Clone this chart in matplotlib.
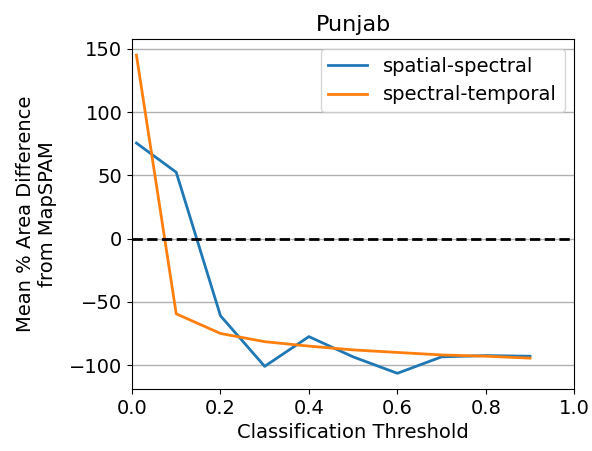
import matplotlib
matplotlib.use("Agg")
import matplotlib.pyplot as plt

thresholds = [0.01, 0.1, 0.2, 0.3, 0.4, 0.5, 0.6, 0.7, 0.8, 0.9]
spatial_spectral = [75.5, 52.4, -61, -101, -77.5, -93.5, -106.5, -93.5, -92.5, -93]
spectral_temporal = [145, -59.5, -75, -81.5, -85, -88, -90, -92, -93, -94.5]

plt.rcParams["font.size"] = 14

fig = plt.figure(figsize=(5.92, 4.51), dpi=100)
ax = fig.add_axes([0.223, 0.137, 0.747, 0.776])

ax.plot(thresholds, spatial_spectral, color="#1f77b4", linewidth=2, label="spatial-spectral")
ax.plot(thresholds, spectral_temporal, color="#ff7f0e", linewidth=2, label="spectral-temporal")
ax.axhline(0, color="black", linestyle="--", linewidth=2)

ax.set_xlim(0, 1.0)
ax.yaxis.grid(True, color="#b0b0b0", linewidth=1)
ax.set_axisbelow(True)
ax.set_title("Punjab", fontsize=16)
ax.set_xlabel("Classification Threshold")
ax.set_ylabel("Mean % Area Difference\nfrom MapSPAM", labelpad=9)
ax.legend(loc="upper right")

fig.savefig("out.png", dpi=100)
